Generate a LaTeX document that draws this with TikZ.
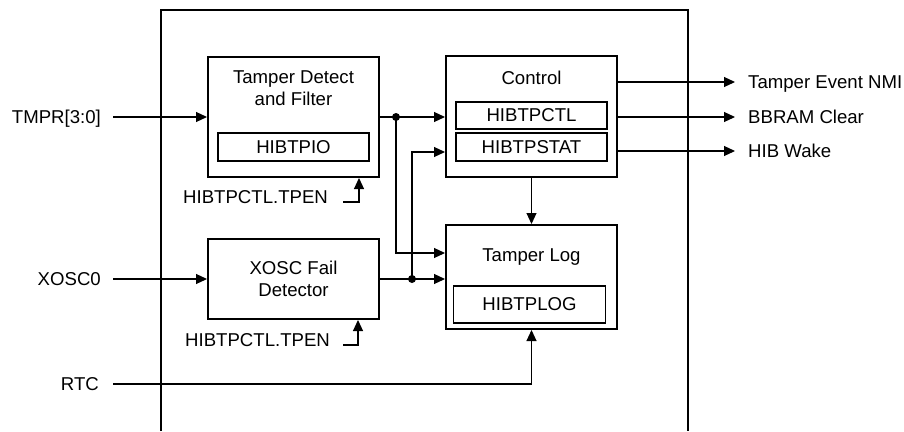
\documentclass[tikz,border=0pt]{standalone}
\usepackage{fontspec}
\setmainfont{Liberation Sans}
\usetikzlibrary{arrows.meta}
\begin{document}
\begin{tikzpicture}[x=1pt,y=-1pt,
  box/.style={draw,line width=2pt,inner sep=0pt,minimum width=171pt},
  reg/.style={draw,line width=1.8pt,inner sep=0pt,font=\fontsize{18.6}{22}\selectfont},
  txt/.style={inner sep=0pt,font=\fontsize{18.6}{22}\selectfont},
  wire/.style={line width=1.1pt},
  arr/.style={wire,-{Triangle[length=11pt,width=10pt]}},
  jdot/.style={circle,fill,inner sep=0pt,minimum size=8pt}]
\useasboundingbox (0,0) rectangle (904,431);
% outer frame
\draw[line width=2.2pt] (161,431) -- (161,10) -- (688,10) -- (688,431);
% blocks
\node[box,minimum height=120pt] (tdf) at (293.5,117) {};
\node[txt,anchor=base] (tdft1) at (293.5,83.5) {Tamper Detect};
\node[txt,anchor=base] (tdft2) at (293.5,105.5) {and Filter};
\node[reg,minimum width=151pt,minimum height=28pt] (pio) at (293.5,147) {HIBTPIO};

\node[box,minimum height=121pt] (ctl) at (531.5,116.5) {};
\node[txt,anchor=base] (ctlt) at (531.5,84.3) {Control};
\node[reg,minimum width=151pt,minimum height=27pt] (pctl) at (531.5,115.5) {HIBTPCTL};
\node[reg,minimum width=151pt,minimum height=28pt] (pstat) at (531.5,147) {HIBTPSTAT};

\node[box,minimum height=104pt] (log) at (531.5,277) {};
\node[txt,anchor=base] (logt) at (531.5,261.7) {Tamper Log};
\node[reg,minimum width=152pt,minimum height=37pt] (plog) at (529.5,304.5) {HIBTPLOG};

\node[box,minimum height=80pt] (xosc) at (293.5,279) {};
\node[txt,anchor=base] (xt1) at (293.5,274.3) {XOSC Fail};
\node[txt,anchor=base] (xt2) at (293.5,296.7) {Detector};

% input labels
\node[txt,anchor=base east] (tmpr) at (101,123.5) {TMPR[3:0]};
\node[txt,anchor=base east] (xosc0) at (101,285.5) {XOSC0};
\node[txt,anchor=base east] (rtc) at (99,390.5) {RTC};
\coordinate (in1) at (113,117);
\coordinate (in2) at (113,279);
\coordinate (in3) at (113,384);
\draw[arr] (in1) -- (tdf.west);
\draw[arr] (in2) -- (xosc.west);
\draw[arr] (in3) -| (log.south);

% enable labels
\node[txt,anchor=base west] (en1) at (183,203.3) {HIBTPCTL.TPEN};
\node[txt,anchor=base west] (en2) at (185,346.7) {HIBTPCTL.TPEN};
\coordinate (e1) at (343,202);
\coordinate (e2) at (343,345);
\draw[arr] (e1) -| ([xshift=65.5pt]tdf.south);
\draw[arr] (e2) -| ([xshift=64.5pt]xosc.south);

% internal connections
\node[jdot] (j1) at (396,117) {};
\node[jdot] (j2) at (412,279) {};
\draw[arr] (tdf.east) -- (tdf.east -| ctl.west);
\draw[arr] (j1.center) |- ([yshift=24pt]log.west);
\draw[arr] (xosc.east) -- (xosc.east -| log.west);
\draw[arr] (j2.center) |- ([yshift=-35.5pt]ctl.west);
\draw[arr] (ctl.south) -- (log.north);

% outputs
\coordinate (o1) at (735,82);
\coordinate (o2) at (735,117);
\coordinate (o3) at (735,151);
\draw[arr] (ctl.east |- o1) -- (o1);
\draw[arr] (ctl.east |- o2) -- (o2);
\draw[arr] (ctl.east |- o3) -- (o3);
\node[txt,anchor=base west] (nmi) at (748,88.5) {Tamper Event NMI};
\node[txt,anchor=base west] (bbram) at (748,123) {BBRAM Clear};
\node[txt,anchor=base west] (wake) at (748,157.5) {HIB Wake};
\end{tikzpicture}
\end{document}
